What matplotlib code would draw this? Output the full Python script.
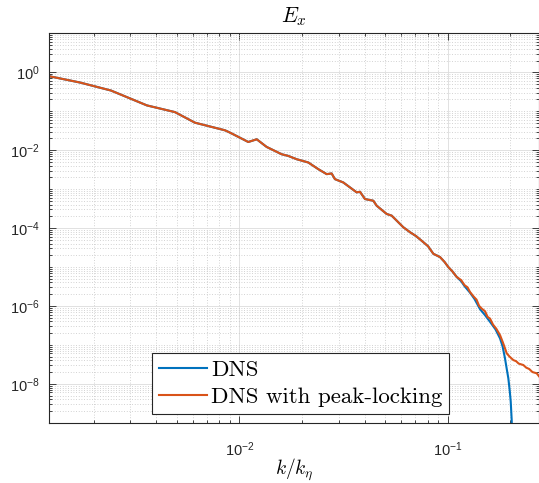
import numpy as np
import matplotlib
matplotlib.use("Agg")
import matplotlib.pyplot as plt
from matplotlib.ticker import LogLocator, FixedLocator, FuncFormatter, NullFormatter

plt.rcParams['mathtext.fontset'] = 'custom'
plt.rcParams['mathtext.rm'] = 'Liberation Sans'
plt.rcParams['mathtext.it'] = 'Liberation Sans:italic'
plt.rcParams['font.family'] = ['Liberation Sans', 'DejaVu Sans']

# shared low-wavenumber part (both curves coincide)
k_common = [0.001225, 0.00172, 0.00242, 0.00360, 0.00491, 0.00612, 0.00854, 0.00902,
            0.01104, 0.01212, 0.01352, 0.01596, 0.01717, 0.01884, 0.02143, 0.02393,
            0.02625, 0.02773, 0.02876, 0.03154, 0.03657, 0.03793, 0.04009, 0.04395,
            0.04562, 0.05093, 0.05383, 0.05689, 0.06118, 0.06592, 0.0705, 0.07636,
            0.0805, 0.08531, 0.09189, 0.0965, 0.1007, 0.1055, 0.1105]
E_common = [0.79, 0.545, 0.34, 0.141, 0.0948, 0.0508, 0.0323, 0.0282,
            0.0162, 0.0190, 0.0121, 0.00785, 0.00711, 0.00585, 0.00482, 0.00325,
            0.00242, 0.00252, 0.00180, 0.00148, 8.24e-4, 8.53e-4, 5.55e-4, 5.02e-4,
            3.74e-4, 2.30e-4, 2.08e-4, 1.55e-4, 1.05e-4, 7.81e-5, 6.2e-5, 4.34e-5,
            3.4e-5, 2.18e-5, 1.79e-5, 1.35e-5, 9.93e-6, 7.6e-6, 5.52e-6]

# DNS tail
k_dns_tail = [0.116, 0.1205, 0.1279, 0.1345, 0.1429, 0.151, 0.1596, 0.1695, 0.1783,
              0.1835, 0.1883, 0.1920, 0.1954, 0.1985, 0.2006, 0.2028, 0.2040]
E_dns_tail = [4.3e-6, 3.2e-6, 2.19e-6, 1.5e-6, 8.26e-7, 5.8e-7, 3.90e-7, 2.5e-7, 1.46e-7,
              9.0e-8, 4.49e-8, 2.4e-8, 1.38e-8, 6.5e-9, 3.51e-9, 1.16e-9, 4e-10]

# DNS with peak-locking tail
k_pl_tail = [0.116, 0.1205, 0.1245, 0.1279, 0.133, 0.1375, 0.1415, 0.1456, 0.151, 0.1555,
             0.1596, 0.165, 0.171, 0.1783, 0.184, 0.1885, 0.1920, 0.198, 0.2065, 0.213,
             0.219, 0.2307, 0.238, 0.246, 0.255, 0.2673, 0.2742]
E_pl_tail = [4.6e-6, 3.4e-6, 3.0e-6, 2.28e-6, 1.75e-6, 1.45e-6, 1.0e-6, 8.53e-7, 7.3e-7, 5.2e-7,
             4.73e-7, 3.3e-7, 2.6e-7, 1.77e-7, 1.15e-7, 8.0e-8, 6.03e-8, 5.0e-8, 4.06e-8, 3.8e-8,
             3.3e-8, 3.03e-8, 2.6e-8, 2.4e-8, 2.0e-8, 1.86e-8, 1.56e-8]

labels = ['DNS', 'DNS with peak-locking']
colors = ['#0072BD', '#D95319']

k_dns = k_common + k_dns_tail
E_dns = E_common + E_dns_tail
k_pl = k_common + k_pl_tail
E_pl = E_common + E_pl_tail

fig = plt.figure(figsize=(5.39, 4.83), dpi=100)
ax = fig.add_axes([0.0915, 0.1248, 0.9085, 0.8062])

ax.loglog(k_dns, E_dns, color=colors[0], lw=1.5, label=labels[0])
ax.loglog(k_pl, E_pl, color=colors[1], lw=1.5, label=labels[1])

ax.set_xlim(0.001225, 0.2742)
ax.set_ylim(1e-9, 1e1)

ax.yaxis.set_major_locator(FixedLocator([1e-8, 1e-6, 1e-4, 1e-2, 1e0]))
ax.yaxis.set_minor_locator(LogLocator(base=10, subs=np.arange(1, 10) * 1.0, numticks=100))
ax.xaxis.set_major_locator(FixedLocator([1e-2, 1e-1]))
ax.xaxis.set_minor_locator(LogLocator(base=10, subs=np.arange(2, 10) * 1.0, numticks=100))
fmt = FuncFormatter(lambda v, p: r'$10^{%d}$' % int(round(np.log10(v))))
ax.xaxis.set_major_formatter(fmt)
ax.yaxis.set_major_formatter(fmt)
ax.xaxis.set_minor_formatter(NullFormatter())
ax.yaxis.set_minor_formatter(NullFormatter())

axc = '#262626'
ax.tick_params(which='both', direction='in', top=True, right=True, colors=axc,
               labelsize=10.5, width=0.6)
ax.tick_params(which='major', length=5)
ax.tick_params(which='minor', length=2.5)
ax.tick_params(axis='x', which='major', pad=13)
ax.tick_params(axis='y', which='major', pad=7)
for s in ax.spines.values():
    s.set_color(axc)
    s.set_linewidth(0.8)

ax.grid(True, which='major', color='#dcdcdc', lw=0.6, ls='-')
ax.grid(True, which='minor', color='#c4c4c4', lw=0.6, ls=(0, (1, 2.2)))
ax.set_axisbelow(True)

ax.set_title(r'$E_x$', fontsize=15.5, math_fontfamily='cm', pad=8)
ax.set_xlabel(r'$k/k_\eta$', fontsize=14, math_fontfamily='cm', labelpad=-2)

leg = ax.legend(loc='lower left', bbox_to_anchor=(0.209, 0.0216), borderaxespad=0,
                prop={'family': 'cmr10', 'size': 16.5}, fancybox=False, framealpha=1,
                edgecolor='#262626', handlelength=2.1, handletextpad=0.18,
                labelspacing=0.32, borderpad=0.3)
leg.get_frame().set_linewidth(0.8)

fig.savefig('out.png', dpi=100)
